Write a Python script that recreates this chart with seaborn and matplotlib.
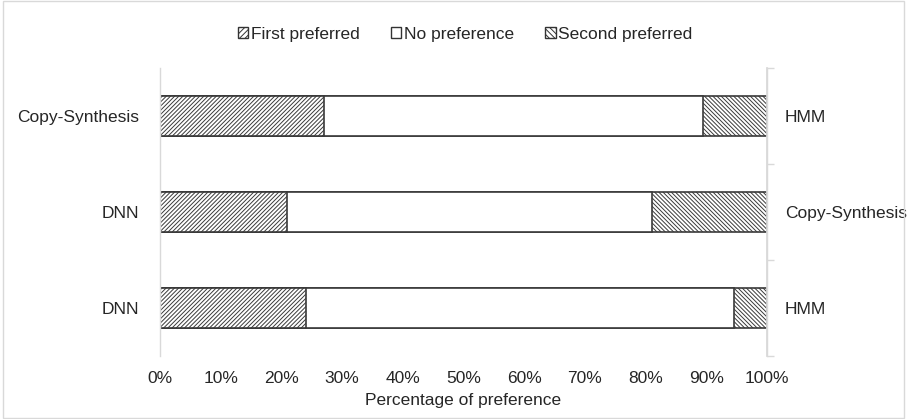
import matplotlib
matplotlib.use("Agg")
import matplotlib.pyplot as plt
import seaborn as sns
import pandas as pd
import numpy as np
from matplotlib.patches import Patch
from matplotlib.ticker import FuncFormatter

left_labels = ["Copy-Synthesis", "DNN", "DNN"]
right_labels = ["HMM", "Copy-Synthesis", "HMM"]
first_pref = [27, 21, 24]
no_pref = [62.5, 60, 70.5]
second_pref = [10.5, 19, 5.5]
x_ticks = [0, 10, 20, 30, 40, 50, 60, 70, 80, 90, 100]

sns.set_theme(style="white")
plt.rcParams['font.family'] = ['Liberation Sans', 'DejaVu Sans']
plt.rcParams['hatch.linewidth'] = 0.7
plt.rcParams['hatch.color'] = '#222222'

FS = 12.5
TXT = "#262626"
H1 = "/" * 8
H2 = "\\" * 8

pair = ["p0", "p1", "p2"]
df = pd.DataFrame({
    "pair": pair,
    "first": first_pref,
    "nopref": no_pref,
    "second": second_pref,
})
df["cum1"] = df["first"]
df["cum2"] = df["first"] + df["nopref"]
df["cum3"] = df["first"] + df["nopref"] + df["second"]

fig = plt.figure(figsize=(9.07, 4.19), dpi=100)
ax = fig.add_axes([0.1764, 0.1504, 0.6693, 0.6873])

layers = [("cum3", H2), ("cum2", ""), ("cum1", H1)]
for col, hatch in layers:
    n_before = len(ax.patches)
    sns.barplot(data=df, x=col, y="pair", orient="h", color="white",
                width=0.41, edgecolor="#3a3a3a", linewidth=1.2, ax=ax,
                saturation=1)
    for p in ax.patches[n_before:]:
        p.set_facecolor("white")
        p.set_hatch(hatch)
        p.set_edgecolor("#3a3a3a")

ax.set_xlim(0, 100)
ax.set_ylim(2.5, -0.5)
ax.set_xticks(x_ticks)
ax.xaxis.set_major_formatter(FuncFormatter(lambda v, p: f"{int(v)}%"))
ax.set_yticks([0, 1, 2])
ax.set_yticklabels(left_labels)
ax.tick_params(axis='y', length=0, pad=15, labelsize=FS, labelcolor=TXT)
ax.tick_params(axis='x', length=0, pad=11, labelsize=FS, labelcolor=TXT)
ax.set_xlabel("Percentage of preference", fontsize=FS, color=TXT, labelpad=5)
ax.set_ylabel("")

for s in ["top", "bottom"]:
    ax.spines[s].set_visible(False)
ax.spines["left"].set_color("#d9d9d9")
ax.spines["right"].set_color("#d9d9d9")
ax.spines["left"].set_linewidth(1.0)
ax.spines["right"].set_linewidth(1.0)

ax2 = ax.twinx()
ax2.set_ylim(ax.get_ylim())
ax2.set_yticks([0, 1, 2])
ax2.set_yticklabels(right_labels)
ax2.set_yticks([-0.5, 0.5, 1.5, 2.5], minor=True)
ax2.tick_params(axis='y', which='major', length=0, pad=13, labelsize=FS, labelcolor=TXT)
ax2.tick_params(axis='y', which='minor', length=5, width=1.0, color="#d9d9d9", direction='out')
for s in ["top", "bottom", "left"]:
    ax2.spines[s].set_visible(False)
ax2.spines["right"].set_color("#d9d9d9")

handles = [
    Patch(facecolor="white", edgecolor="#333333", hatch="//////", label="First preferred"),
    Patch(facecolor="white", edgecolor="#333333", label="No preference"),
    Patch(facecolor="white", edgecolor="#333333", hatch="\\\\\\\\\\\\", label="Second preferred"),
]
fig.legend(handles=handles, loc="center", bbox_to_anchor=(0.513, 0.918), ncol=3,
           frameon=False, fontsize=FS, handlelength=0.6, handleheight=0.6,
           handletextpad=0.15, columnspacing=1.8, labelcolor=TXT)

border = plt.Rectangle((0.003, 0.003), 0.994, 0.994, transform=fig.transFigure,
                       fill=False, edgecolor="#d9d9d9", linewidth=1.0)
fig.patches.append(border)

fig.savefig("out.png", dpi=100)
